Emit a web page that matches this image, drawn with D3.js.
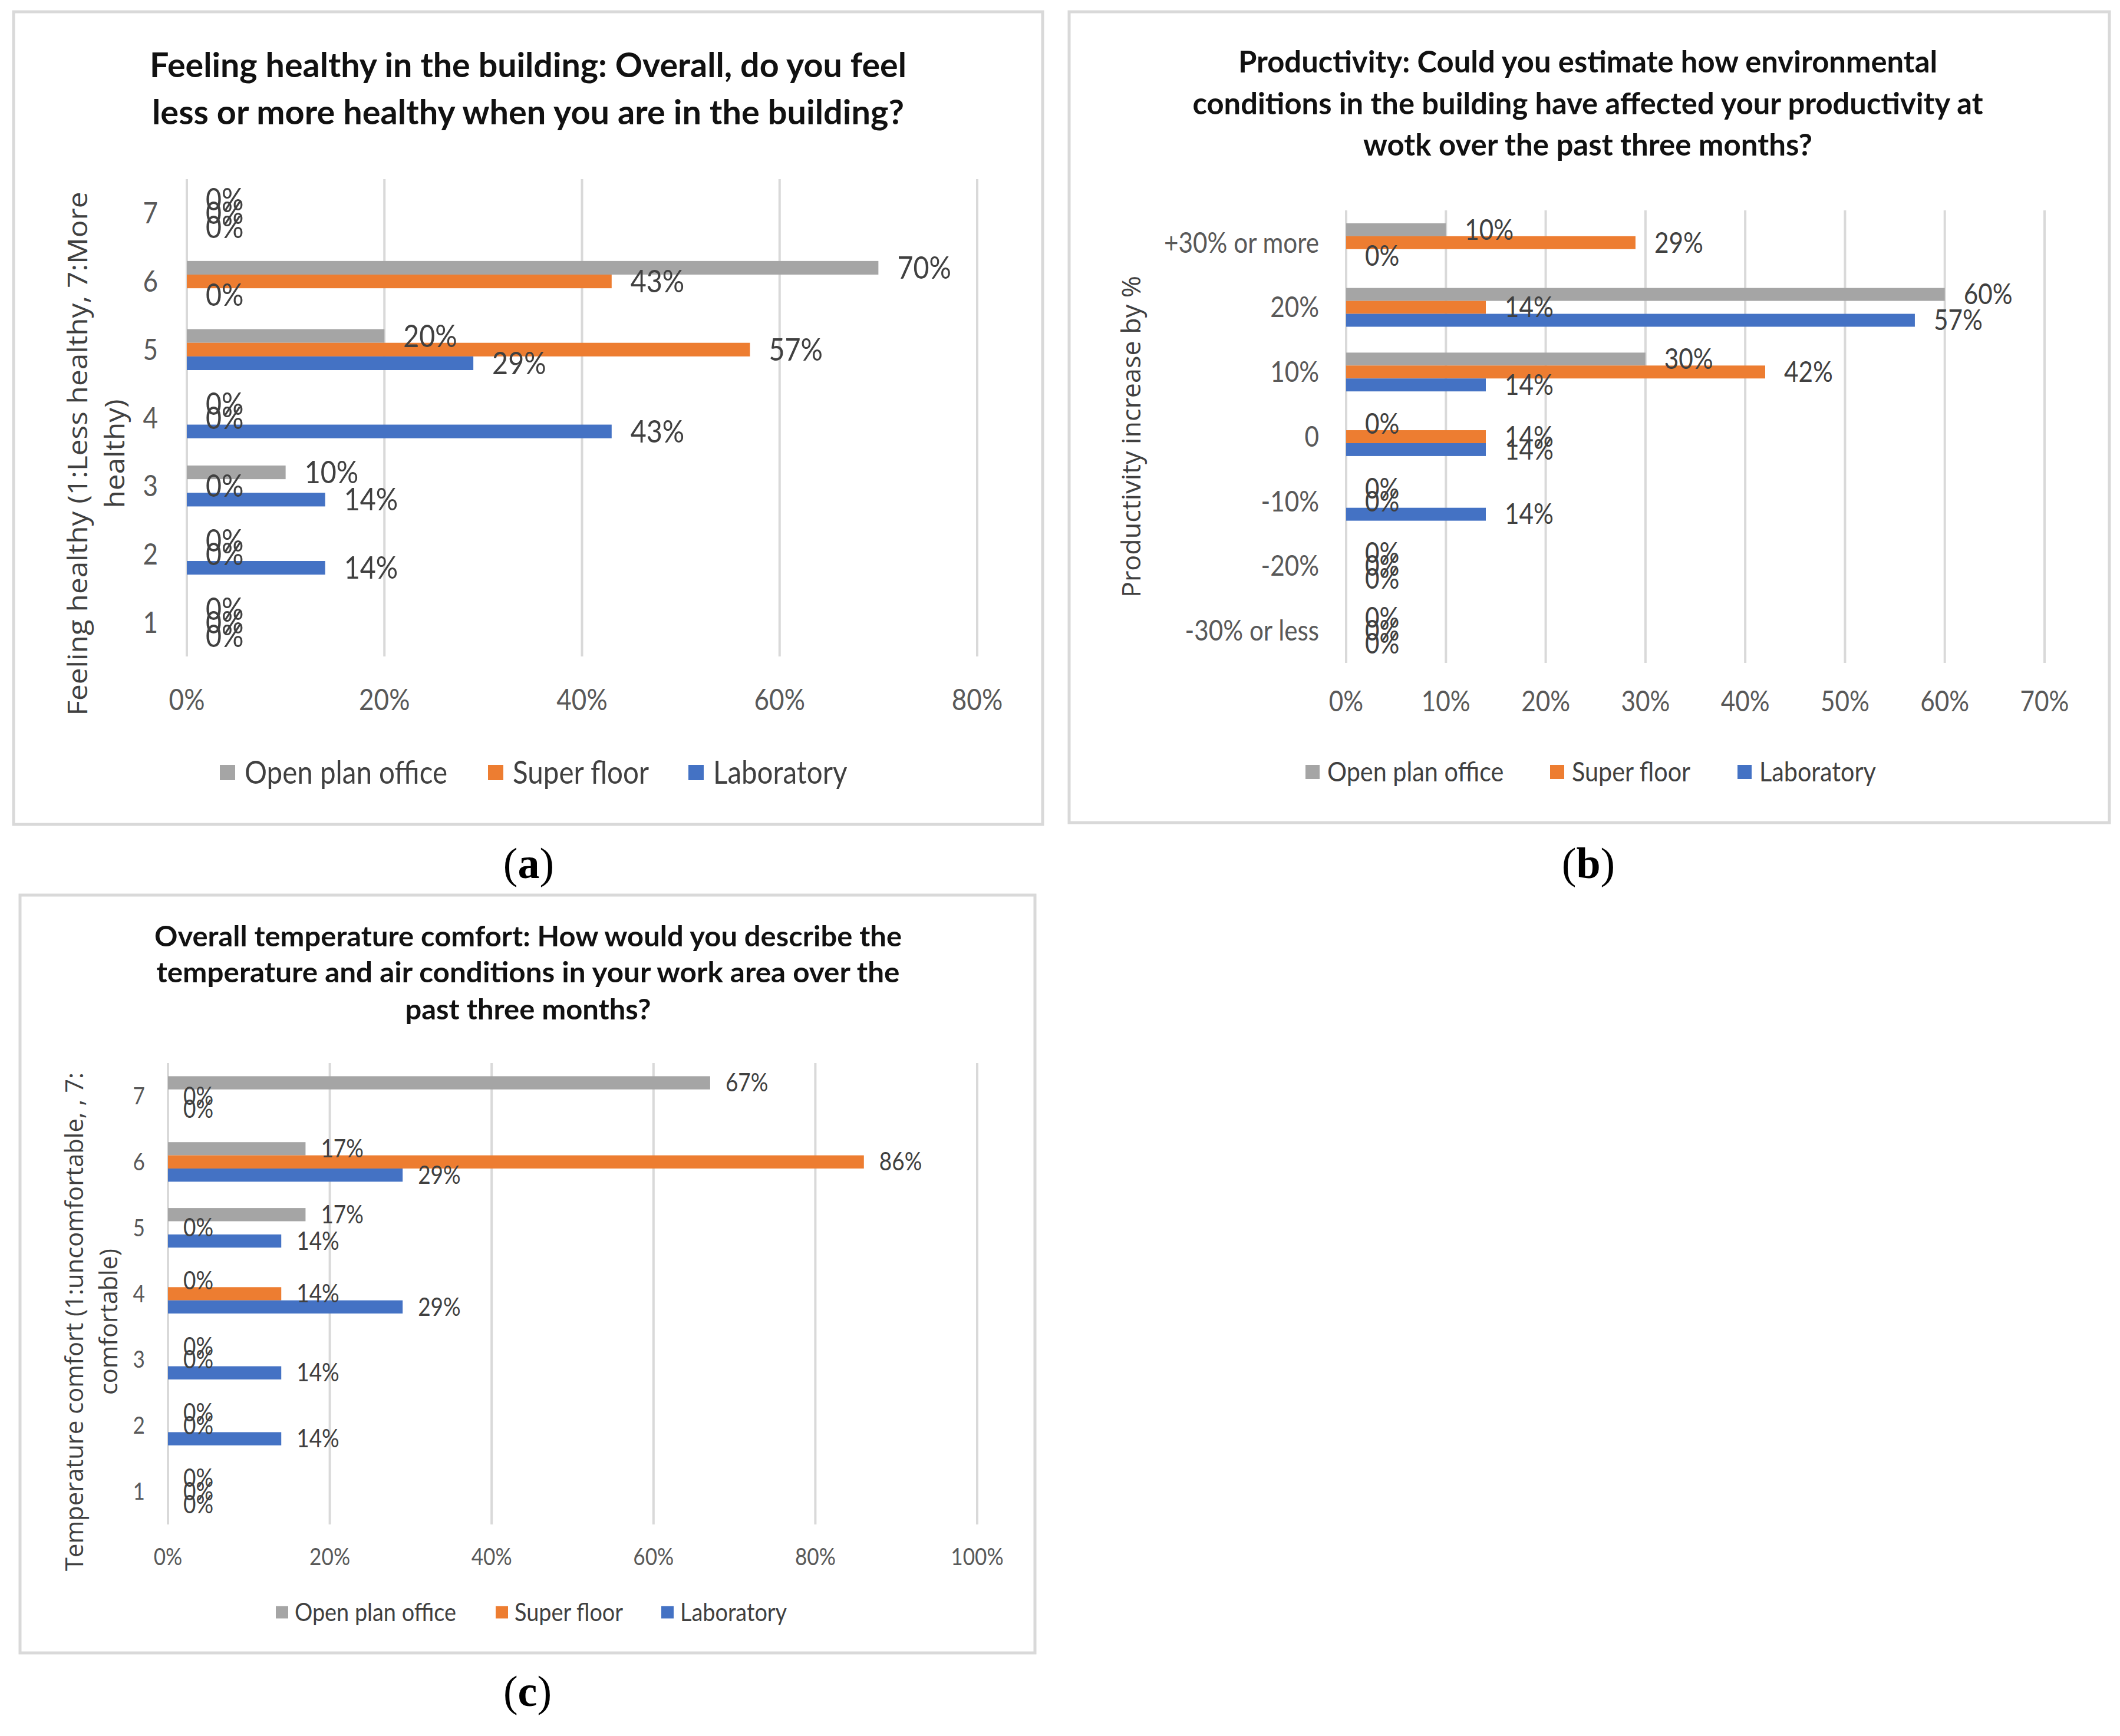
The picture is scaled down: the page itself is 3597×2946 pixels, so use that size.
<!DOCTYPE html>
<html>
<head>
<meta charset="utf-8">
<script src="https://cdn.jsdelivr.net/npm/d3@7"></script>
<style>
  body { margin: 0; background: #fff; }
</style>
</head>
<body>
<div id="fig"></div>
<script>
// series shared by the three charts
const series = ["Open plan office", "Super floor", "Laboratory"];
const seriesColors = ["#A5A5A5", "#ED7D31", "#4472C4"];

// (a) feeling healthy, categories top to bottom
const healthCats = ["7", "6", "5", "4", "3", "2", "1"];
const healthOpen = [0, 70, 20, 0, 10, 0, 0];
const healthSuper = [0, 43, 57, 0, 0, 0, 0];
const healthLab = [0, 0, 29, 43, 14, 14, 0];
const healthTicks = [0, 20, 40, 60, 80];

// (b) productivity
const prodCats = ["+30% or more", "20%", "10%", "0", "-10%", "-20%", "-30% or less"];
const prodOpen = [10, 60, 30, 0, 0, 0, 0];
const prodSuper = [29, 14, 42, 14, 0, 0, 0];
const prodLab = [0, 57, 14, 14, 14, 0, 0];
const prodTicks = [0, 10, 20, 30, 40, 50, 60, 70];

// (c) temperature comfort
const tempCats = ["7", "6", "5", "4", "3", "2", "1"];
const tempOpen = [67, 17, 17, 0, 0, 0, 0];
const tempSuper = [0, 86, 0, 14, 0, 0, 0];
const tempLab = [0, 29, 14, 29, 14, 14, 0];
const tempTicks = [0, 20, 40, 60, 80, 100];

const healthTitle = ["Feeling healthy in the building: Overall, do you feel",
                     "less or more healthy when you are in the building?"];
const prodTitle = ["Productivity: Could you estimate how environmental",
                   "conditions in the building have affected your productivity at",
                   "wotk over the past three months?"];
const tempTitle = ["Overall temperature comfort: How would you describe the",
                   "temperature and air conditions in your work area over the",
                   "past three months?"];

const healthYTitle = ["Feeling healthy (1:Less healthy, 7:More", "healthy)"];
const prodYTitle = ["Productivity increase by %"];
const tempYTitle = ["Temperature comfort (1:uncomfortable, , 7:", "comfortable)"];

const W = 3597, H = 2946;
const sx = 0.88; // chart text in the picture is narrower than the fonts we have
const chartFont = "Lato, 'Open Sans', sans-serif";

const svg = d3.select("#fig").append("svg")
  .attr("width", W)
  .attr("height", H)
  .attr("viewBox", `0 0 ${W} ${H}`);

svg.append("rect").attr("width", W).attr("height", H).attr("fill", "#fff");

// plain text with horizontal squeeze
const addText = (g, x, y, str, o) => {
  return g.append("text")
    .attr("transform", `translate(${x},${y}) scale(${o.sx || 1},1)`)
    .style("font-family", chartFont)
    .attr("font-size", o.size)
    .attr("font-weight", o.weight || "normal")
    .attr("text-anchor", o.anchor || "start")
    .attr("dy", o.dy || 0)
    .attr("fill", o.fill || "#404040")
    .text(str);
};

const drawPanel = (cfg) => {
  const g = svg.append("g");

  // outer frame
  const [fx0, fy0, fx1, fy1] = cfg.frame;
  g.append("rect")
    .attr("x", fx0).attr("y", fy0)
    .attr("width", fx1 - fx0).attr("height", fy1 - fy0)
    .attr("fill", "#fff")
    .attr("stroke", "#D9D9D9")
    .attr("stroke-width", 5);

  // title lines, stretched to the widths
  cfg.title.forEach((line, i) => {
    g.append("text")
      .attr("x", cfg.titleX - cfg.titleW[i] / 2)
      .attr("y", cfg.titleY[i])
      .style("font-family", chartFont)
      .attr("font-size", cfg.titleSize)
      .attr("font-weight", "bold")
      .attr("fill", "#111")
      .attr("textLength", cfg.titleW[i])
      .attr("lengthAdjust", "spacingAndGlyphs")
      .text(line);
  });

  const x = d3.scaleLinear()
    .domain([0, d3.max(cfg.ticks)])
    .range([cfg.x0, cfg.x1]);

  const y = d3.scaleBand()
    .domain(cfg.cats)
    .range([cfg.y0, cfg.y1])
    .paddingInner(0.4)
    .paddingOuter(0.2);

  const ySub = d3.scaleBand()
    .domain(series)
    .range([0, y.bandwidth()]);

  // gridlines
  g.append("g")
    .selectAll("line")
    .data(cfg.ticks)
    .enter()
    .append("line")
    .attr("x1", d => x(d)).attr("x2", d => x(d))
    .attr("y1", cfg.y0).attr("y2", cfg.y1)
    .attr("stroke", "#D9D9D9")
    .attr("stroke-width", 4);

  // x tick labels
  cfg.ticks.forEach(t => {
    addText(g, x(t), cfg.xTickY, t + "%", { size: cfg.tickSize, anchor: "middle", dy: "0.35em", sx: sx, fill: "#595959" });
  });

  // y tick labels
  cfg.cats.forEach(c => {
    addText(g, cfg.yTickX, y(c) + y.bandwidth() / 2, c, { size: cfg.tickSize, anchor: "end", dy: "0.35em", sx: sx, fill: "#595959" });
  });

  // bars and their labels
  const rows = [];
  cfg.cats.forEach((c, i) => {
    cfg.values.forEach((vals, s) => {
      rows.push({ cat: c, s: s, name: series[s], v: vals[i] });
    });
  });

  g.append("g")
    .selectAll("rect")
    .data(rows)
    .enter()
    .append("rect")
    .attr("x", x(0))
    .attr("y", d => y(d.cat) + ySub(d.name))
    .attr("width", d => x(d.v) - x(0))
    .attr("height", ySub.bandwidth())
    .attr("fill", d => seriesColors[d.s]);

  rows.forEach(d => {
    addText(g, x(d.v) + cfg.labelOff, y(d.cat) + ySub(d.name) + ySub.bandwidth() / 2, d.v + "%",
      { size: cfg.labelSize, dy: "0.35em", sx: sx, fill: "#404040" });
  });

  // rotated y axis title
  cfg.yTitle.forEach((line, i) => {
    g.append("text")
      .attr("transform", `translate(${cfg.yTitleX[i]},${cfg.yTitleCY}) rotate(-90)`)
      .attr("text-anchor", "middle")
      .attr("dy", "0.35em")
      .style("font-family", "'Open Sans', sans-serif")
      .attr("font-size", cfg.yTitleSize)
      .attr("fill", "#404040")
      .attr("textLength", cfg.yTitleW[i])
      .attr("lengthAdjust", "spacingAndGlyphs")
      .text(line);
  });

  // legend
  series.forEach((name, i) => {
    const lx = cfg.legendX[i];
    g.append("rect")
      .attr("x", lx)
      .attr("y", cfg.legendY - cfg.legendBox / 2)
      .attr("width", cfg.legendBox)
      .attr("height", cfg.legendBox)
      .attr("fill", seriesColors[i]);
    addText(g, lx + cfg.legendBox + cfg.legendGap, cfg.legendY, name,
      { size: cfg.legendSize, dy: "0.35em", sx: sx, fill: "#404040" });
  });

  // (a) / (b) / (c)
  const cap = svg.append("text")
    .attr("x", cfg.capX)
    .attr("y", cfg.capY)
    .attr("text-anchor", "middle")
    .style("font-family", "'Liberation Serif', 'DejaVu Serif', serif")
    .attr("font-size", 74)
    .attr("fill", "#000");
  cap.append("tspan").text("(");
  cap.append("tspan").attr("font-weight", "bold").text(cfg.cap);
  cap.append("tspan").text(")");
};

drawPanel({
  frame: [23, 20, 1769, 1399],
  title: healthTitle, titleX: 896, titleY: [131, 211], titleW: [1284, 1276], titleSize: 58,
  cats: healthCats, values: [healthOpen, healthSuper, healthLab], ticks: healthTicks,
  x0: 317, x1: 1658, y0: 304, y1: 1114,
  xTickY: 1187, yTickX: 268, tickSize: 50,
  labelSize: 53, labelOff: 32,
  yTitle: healthYTitle, yTitleX: [132, 195], yTitleCY: 770, yTitleW: [889, 185], yTitleSize: 46,
  legendX: [373, 828, 1168], legendY: 1311, legendBox: 26, legendGap: 16, legendSize: 54,
  cap: "a", capX: 897, capY: 1490
});

drawPanel({
  frame: [1814, 20, 3579, 1396],
  title: prodTitle, titleX: 2694, titleY: [123, 194, 264], titleW: [1186, 1341, 762], titleSize: 51,
  cats: prodCats, values: [prodOpen, prodSuper, prodLab], ticks: prodTicks,
  x0: 2284, x1: 3469, y0: 357, y1: 1125,
  xTickY: 1190, yTickX: 2238, tickSize: 48,
  labelSize: 48, labelOff: 32,
  yTitle: prodYTitle, yTitleX: [1920], yTitleCY: 741, yTitleW: [546], yTitleSize: 44,
  legendX: [2215, 2630, 2948], legendY: 1310, legendBox: 24, legendGap: 13, legendSize: 47,
  cap: "b", capX: 2695, capY: 1490
});

drawPanel({
  frame: [34, 1519, 1756, 2805],
  title: tempTitle, titleX: 896, titleY: [1606, 1667, 1730], titleW: [1268, 1261, 417], titleSize: 48,
  cats: tempCats, values: [tempOpen, tempSuper, tempLab], ticks: tempTicks,
  x0: 285, x1: 1658, y0: 1804, y1: 2587,
  xTickY: 2642, yTickX: 246, tickSize: 40,
  labelSize: 42, labelOff: 26,
  yTitle: tempYTitle, yTitleX: [126, 184], yTitleCY: 2243, yTitleW: [846, 248], yTitleSize: 42,
  legendX: [468, 841, 1122], legendY: 2736, legendBox: 21, legendGap: 11, legendSize: 43,
  cap: "c", capX: 895, capY: 2895
});
</script>
</body>
</html>
